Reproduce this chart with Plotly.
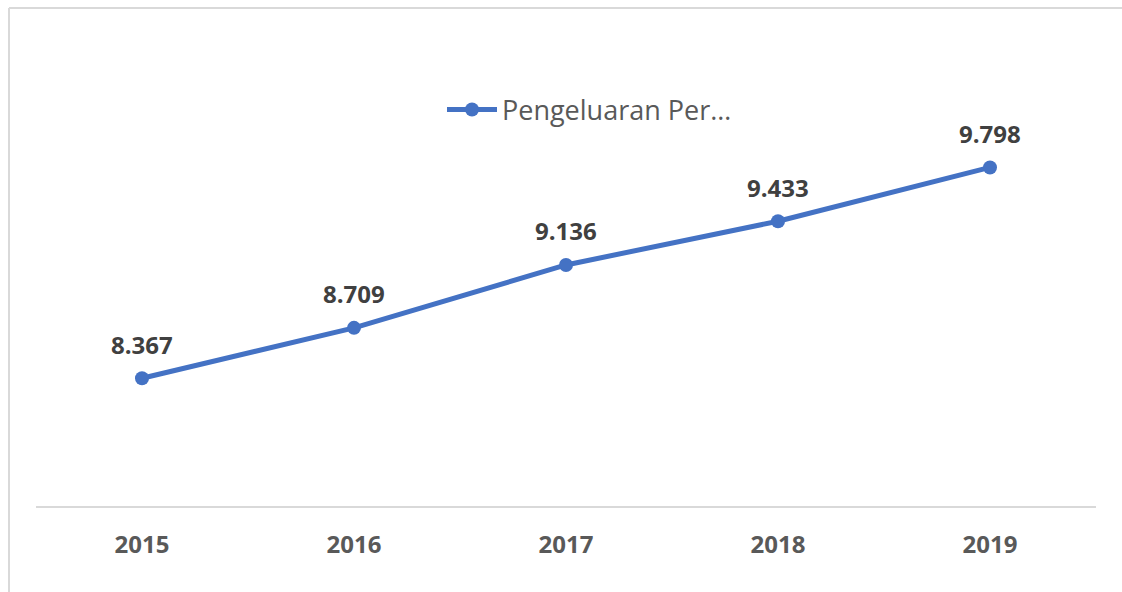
import plotly.graph_objects as go

years = ["2015", "2016", "2017", "2018", "2019"]
values = [8.367, 8.709, 9.136, 9.433, 9.798]
series_name = "Pengeluaran Per…"
value_labels = [f"{v:.3f}" for v in values]

W, H = 1122, 592
L, R, T, B = 36, 26, 64, 86
pw, ph = W - L - R, H - T - B

def px_x(x):
    return (x - L) / pw

def px_y(y):
    return (H - B - y) / ph

fig = go.Figure()
fig.add_trace(go.Scatter(
    x=years, y=values, name=series_name,
    mode="lines+markers",
    line=dict(color="#4472C4", width=5),
    marker=dict(color="#4472C4", size=14),
    cliponaxis=False,
    showlegend=True,
))

# value labels above each point (category index positions)
for i, (v, lab) in enumerate(zip(values, value_labels)):
    fig.add_annotation(
        x=i, y=v, xref="x", yref="y", text=lab, showarrow=False, yshift=34,
        font=dict(family="Open Sans", size=24, color="#404040", weight="bold"),
    )

# chart frame (top and left edges)
line_style = dict(color="#D9D9D9", width=2)
fig.add_shape(type="line", xref="paper", yref="paper",
              x0=px_x(9), x1=px_x(1122), y0=px_y(8), y1=px_y(8), line=line_style)
fig.add_shape(type="line", xref="paper", yref="paper",
              x0=px_x(9), x1=px_x(9), y0=px_y(8), y1=px_y(600), line=line_style)

fig.update_layout(
    width=W, height=H,
    margin=dict(l=L, r=R, t=T, b=B),
    paper_bgcolor="white", plot_bgcolor="white",
    legend=dict(
        x=px_x(442), y=px_y(110), xanchor="left", yanchor="middle",
        orientation="h", bgcolor="rgba(0,0,0,0)",
        font=dict(family="Open Sans", size=27, color="#595959"),
        itemwidth=50,
    ),
    xaxis=dict(
        type="category", range=[-0.5, 4.5],
        showline=True, linecolor="#D9D9D9", linewidth=2,
        showgrid=False, ticks="", ticklabelstandoff=16,
        tickfont=dict(family="Open Sans", size=24, color="#595959", weight="bold"),
        fixedrange=True,
    ),
    yaxis=dict(
        range=[7.5, 10.5], visible=False, showgrid=False, zeroline=False,
    ),
)

fig.write_html("out.html")
